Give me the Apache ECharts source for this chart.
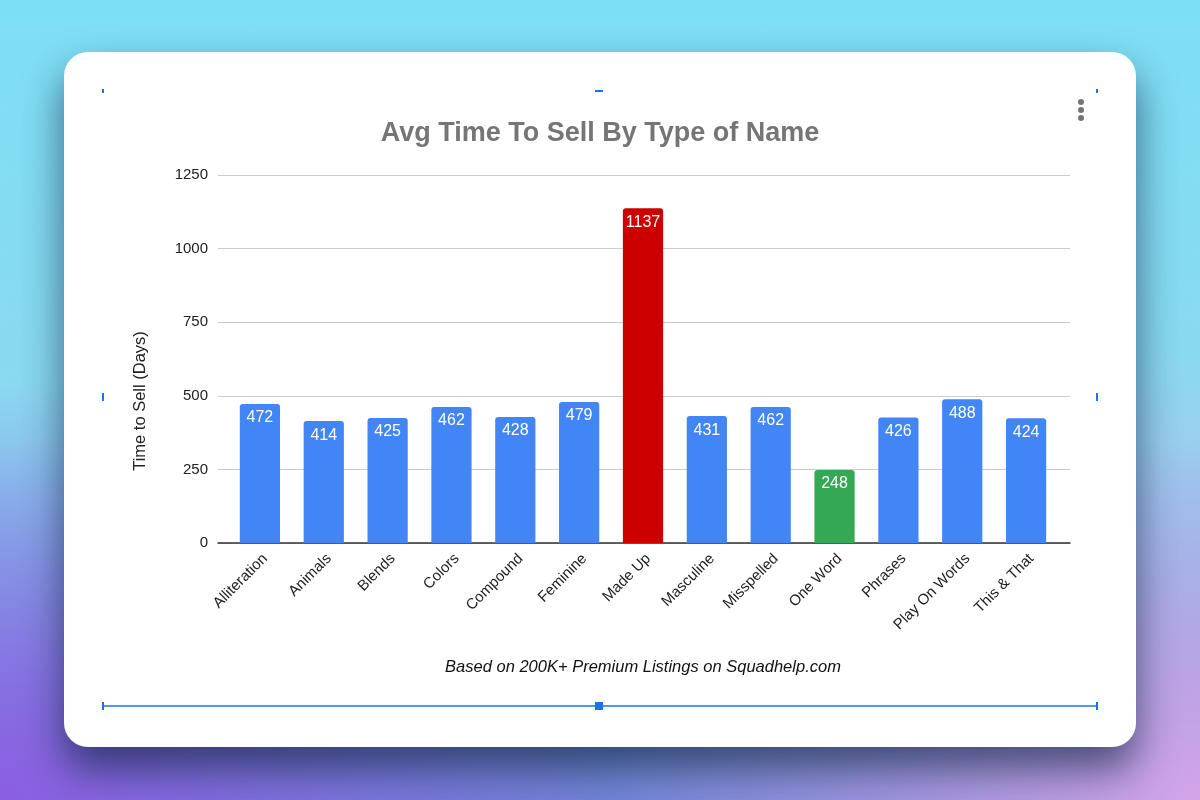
<!DOCTYPE html>
<html>
<head>
<meta charset="utf-8">
<script src="https://cdn.jsdelivr.net/npm/echarts@6/dist/echarts.min.js"></script>
<style>
  html, body { margin: 0; padding: 0; width: 1200px; height: 800px; overflow: hidden; }
  body {
    background:
      radial-gradient(ellipse 650px 420px at 0% 100%, #8b5fe2 0%, rgba(139,95,226,0) 100%),
      radial-gradient(ellipse 600px 450px at 100% 100%, #d3a5e8 0%, rgba(211,165,232,0) 100%),
      linear-gradient(180deg, #7ddff5 0%, #8cd9f0 55%, #7186d8 100%);
    font-family: "Liberation Sans", Arial, sans-serif;
  }
  #card {
    position: absolute; left: 64px; top: 52px; width: 1072px; height: 695px;
    background: #fff; border-radius: 24px;
    box-shadow: 0 22px 40px rgba(10, 30, 60, 0.65);
  }
  #main { position: absolute; left: 0; top: 0; width: 1200px; height: 800px; }
</style>
</head>
<body>
<div id="card"></div>
<div id="main"></div>
<script>
  // chart data
  const categories = ['Alliteration', 'Animals', 'Blends', 'Colors', 'Compound', 'Feminine',
    'Made Up', 'Masculine', 'Misspelled', 'One Word', 'Phrases', 'Play On Words', 'This & That'];
  const avgDays = [472, 414, 425, 462, 428, 479, 1137, 431, 462, 248, 426, 488, 424];
  const yTicks = [0, 250, 500, 750, 1000, 1250];

  const BLUE = '#4285f4', RED = '#cc0000', GREEN = '#34a853';
  const colorFor = (name) => name === 'Made Up' ? RED : (name === 'One Word' ? GREEN : BLUE);

  const chart = echarts.init(document.getElementById('main'));
  const handle = '#1a73e8';
  const yMin = yTicks[0], yMax = yTicks[yTicks.length - 1];

  chart.setOption({
    backgroundColor: 'transparent',
    textStyle: { fontFamily: 'Liberation Sans, Arial, sans-serif' },
    title: {
      text: 'Avg Time To Sell By Type of Name',
      left: 'center', top: 115,
      textStyle: { fontSize: 27, fontWeight: 'bold', color: '#757575' }
    },
    // grid 0: gridlines + baseline (wider), grid 1: the bars
    grid: [
      { left: 218, right: 130, top: 175, bottom: 257 },
      { left: 228, right: 142, top: 175, bottom: 257 }
    ],
    xAxis: [
      {
        type: 'category', gridIndex: 0, data: [''],
        axisLine: { lineStyle: { color: '#333', width: 1.5 } },
        axisTick: { show: false }, axisLabel: { show: false }
      },
      {
        type: 'category', gridIndex: 1, data: categories,
        axisLine: { show: false },
        axisTick: { show: false },
        axisLabel: { rotate: 45, fontSize: 15, color: '#222', margin: 8, interval: 0, verticalAlign: 'top' }
      }
    ],
    yAxis: [
      {
        type: 'value', gridIndex: 0,
        min: yMin, max: yMax, interval: 250,
        axisLine: { show: false },
        axisTick: { show: false },
        axisLabel: { fontSize: 15, color: '#222', margin: 10, formatter: (v) => String(v) },
        splitLine: { lineStyle: { color: '#cccccc', width: 1 } }
      },
      {
        type: 'value', gridIndex: 1,
        min: yMin, max: yMax, interval: 250,
        axisLine: { show: false }, axisTick: { show: false },
        axisLabel: { show: false }, splitLine: { show: false }
      }
    ],
    series: [{
      type: 'bar',
      xAxisIndex: 1, yAxisIndex: 1,
      barWidth: '63%',
      data: avgDays.map((v, i) => ({ value: v, itemStyle: { color: colorFor(categories[i]) } })),
      itemStyle: { borderRadius: [3, 3, 0, 0] },
      label: {
        show: true, position: 'insideTop', distance: 6,
        color: '#fff', fontSize: 16
      }
    }],
    graphic: [
      {
        type: 'text', x: 140, y: 401, rotation: Math.PI / 2,
        style: { text: 'Time to Sell (Days)', fill: '#222', align: 'center', verticalAlign: 'middle',
          font: '16.5px "Liberation Sans", Arial, sans-serif' }
      },
      {
        type: 'text', x: 643, y: 667,
        style: { text: 'Based on 200K+ Premium Listings on Squadhelp.com', fill: '#111',
          align: 'center', verticalAlign: 'middle',
          font: 'italic 16.5px "Liberation Sans", Arial, sans-serif' }
      },
      // three-dot menu
      { type: 'circle', shape: { cx: 1081, cy: 102, r: 3 }, style: { fill: '#757575' } },
      { type: 'circle', shape: { cx: 1081, cy: 110, r: 3 }, style: { fill: '#757575' } },
      { type: 'circle', shape: { cx: 1081, cy: 118, r: 3 }, style: { fill: '#757575' } },
      // selection handles
      { type: 'line', shape: { x1: 103, y1: 706, x2: 1097, y2: 706 }, style: { stroke: handle, lineWidth: 1.5 } },
      { type: 'rect', shape: { x: 102, y: 702, width: 2, height: 8 }, style: { fill: handle } },
      { type: 'rect', shape: { x: 1096, y: 702, width: 2, height: 8 }, style: { fill: handle } },
      { type: 'rect', shape: { x: 595, y: 702, width: 8, height: 8 }, style: { fill: handle } },
      { type: 'rect', shape: { x: 102, y: 89, width: 2, height: 4 }, style: { fill: handle } },
      { type: 'rect', shape: { x: 595, y: 90, width: 8, height: 2 }, style: { fill: handle } },
      { type: 'rect', shape: { x: 1096, y: 89, width: 2, height: 4 }, style: { fill: handle } },
      { type: 'rect', shape: { x: 102, y: 393, width: 2, height: 8 }, style: { fill: handle } },
      { type: 'rect', shape: { x: 1096, y: 393, width: 2, height: 8 }, style: { fill: handle } }
    ]
  });
</script>
</body>
</html>
